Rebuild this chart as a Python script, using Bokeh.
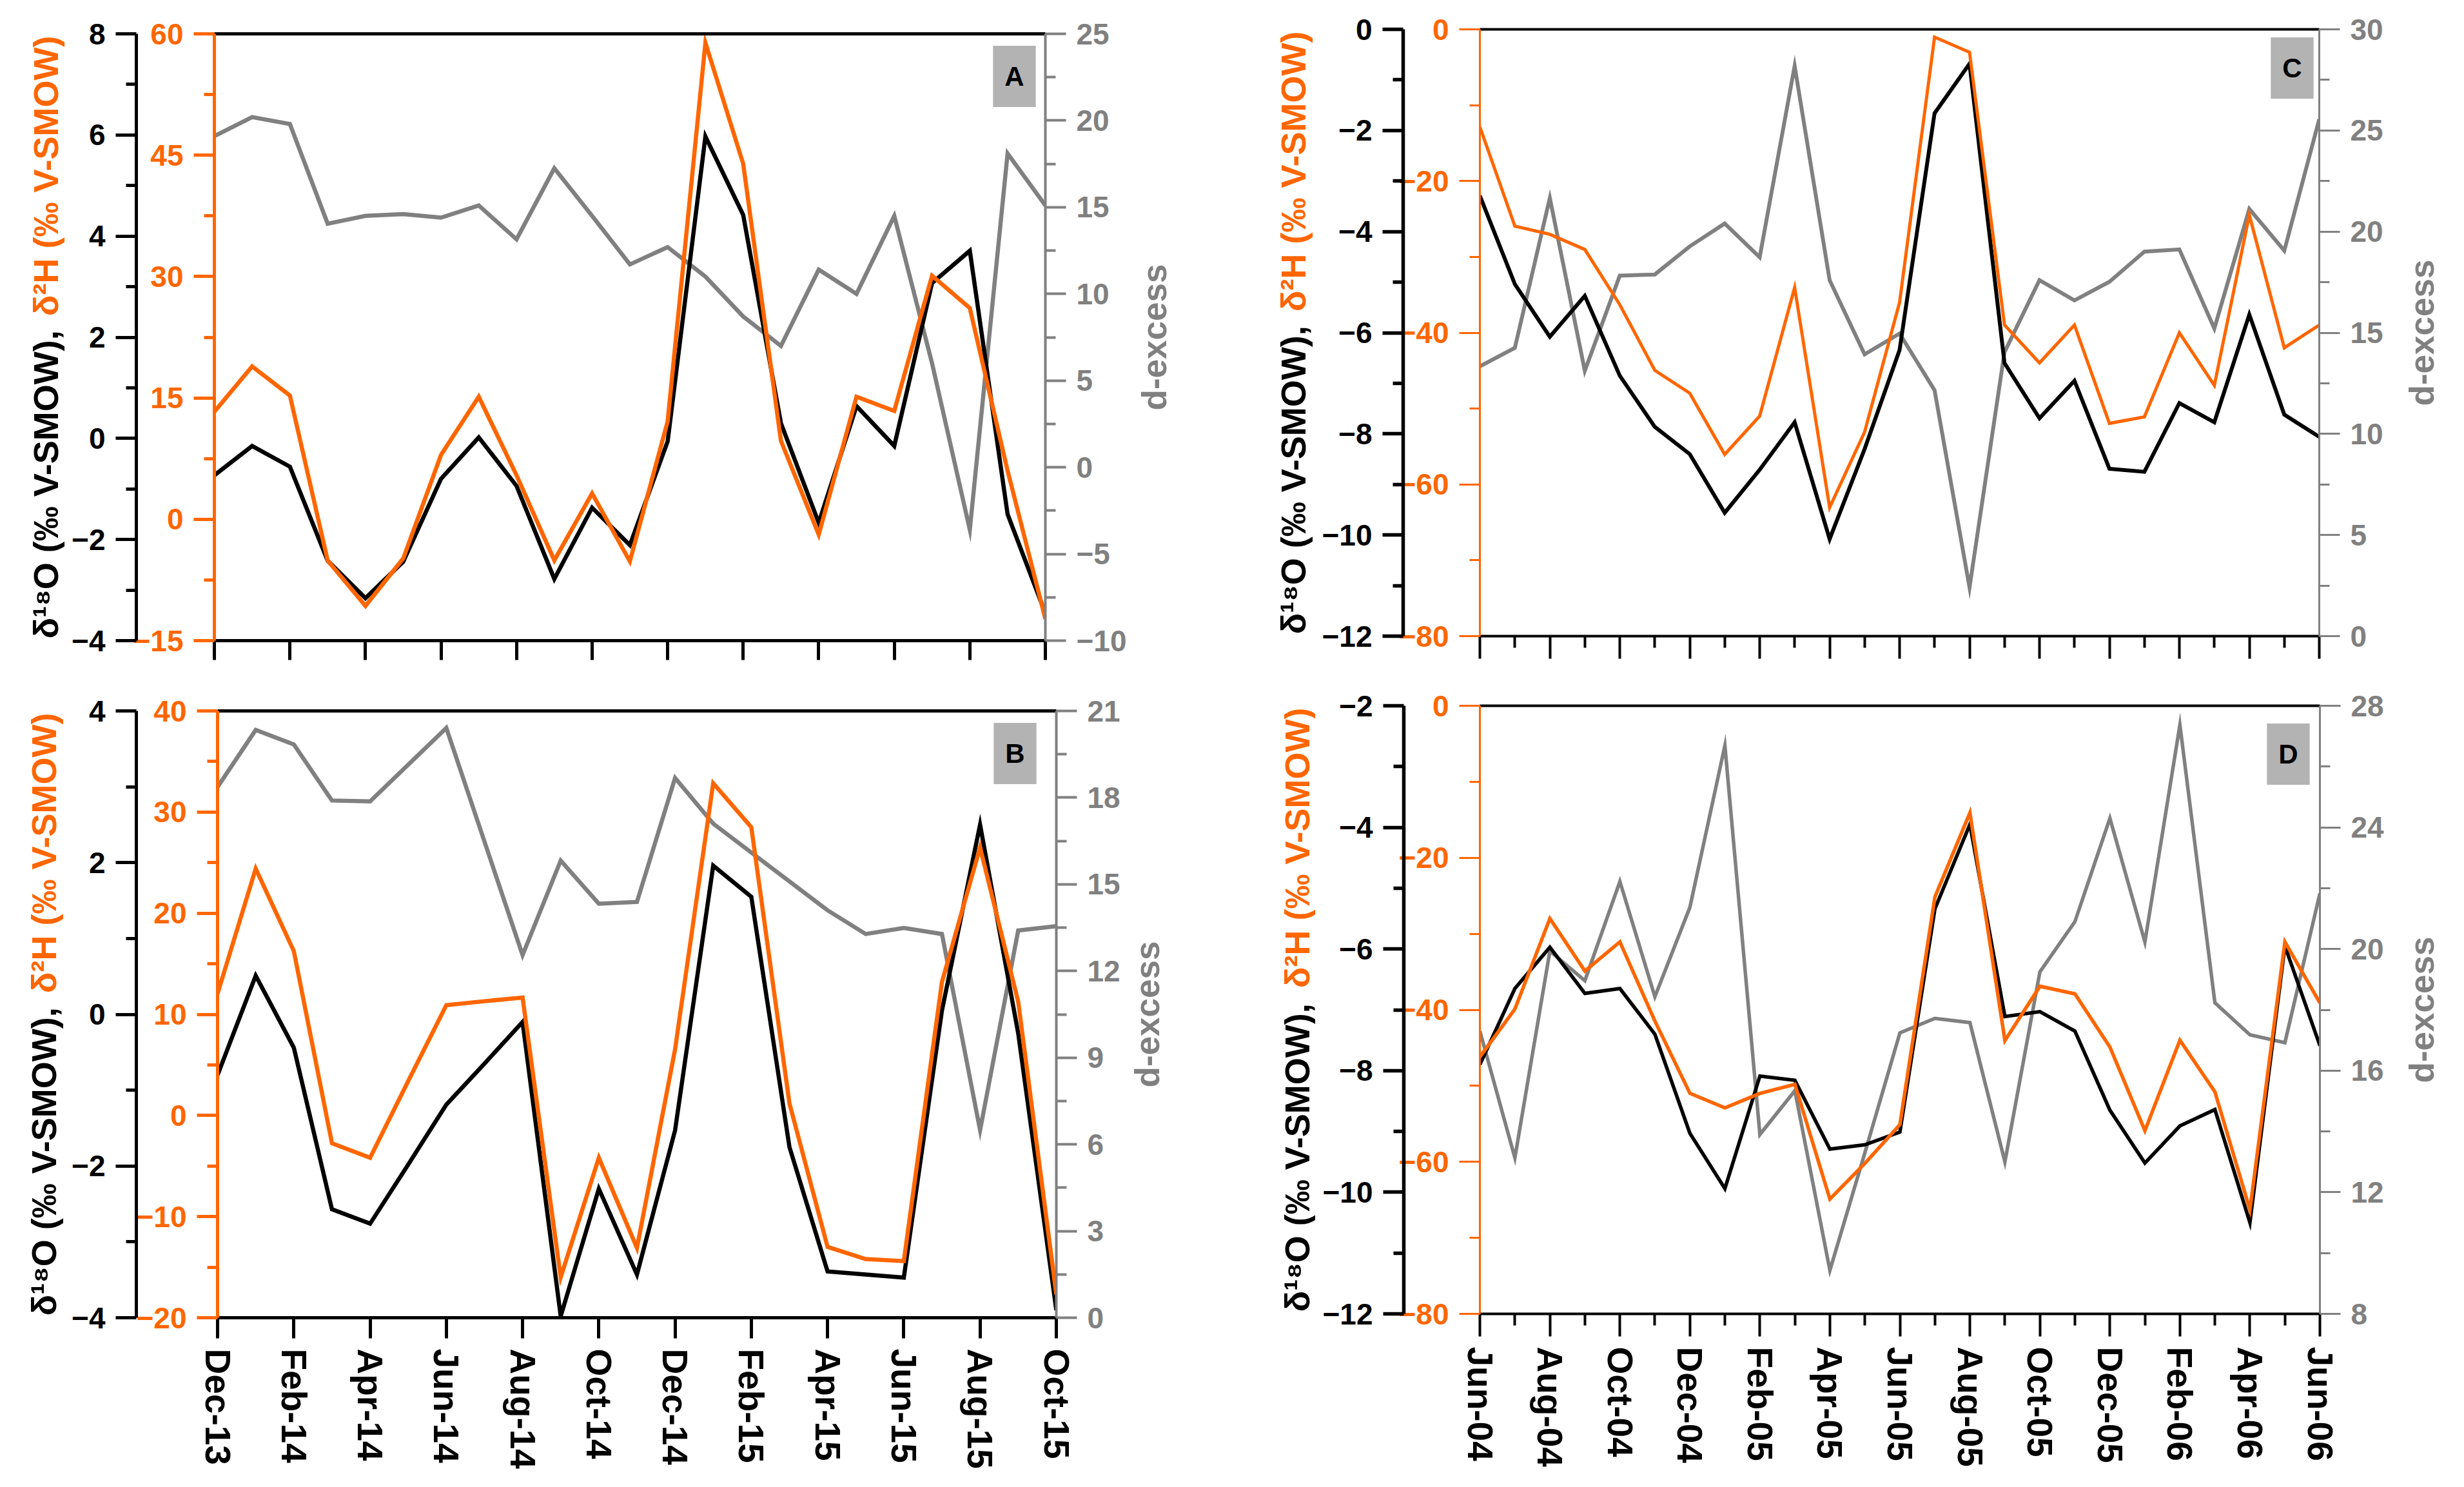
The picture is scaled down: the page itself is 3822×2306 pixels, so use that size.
import math
from bokeh.plotting import figure
from bokeh.models import Range1d, LinearAxis, FixedTicker, Label
from bokeh.layouts import column, row
from bokeh.embed import file_html
from bokeh.resources import INLINE

ORANGE = "#FF6600"
GRAY = "#808080"
BOXGRAY = "#B3B3B3"
FONT = "Liberation Sans"

# ---------------- data ----------------
months_ab = ["Dec-13", "Jan-14", "Feb-14", "Mar-14", "Apr-14", "May-14", "Jun-14", "Jul-14",
             "Aug-14", "Sep-14", "Oct-14", "Nov-14", "Dec-14", "Jan-15", "Feb-15", "Mar-15",
             "Apr-15", "May-15", "Jun-15", "Jul-15", "Aug-15", "Sep-15", "Oct-15"]
months_cd = ["Jun-04", "Jul-04", "Aug-04", "Sep-04", "Oct-04", "Nov-04", "Dec-04", "Jan-05",
             "Feb-05", "Mar-05", "Apr-05", "May-05", "Jun-05", "Jul-05", "Aug-05", "Sep-05",
             "Oct-05", "Nov-05", "Dec-05", "Jan-06", "Feb-06", "Mar-06", "Apr-06", "May-06",
             "Jun-06"]

a_d18o = [-0.73, -0.15, -0.56, -2.42, -3.16, -2.44, -0.80, 0.02, -0.94, -2.78, -1.37, -2.11,
          -0.06, 5.97, 4.42, 0.30, -1.67, 0.64, -0.15, 3.07, 3.71, -1.50, -3.46]
a_d2h = [13.3, 18.9, 15.3, -5.1, -10.7, -4.85, 7.95, 15.15, 5.44, -5.07, 3.2, -5.2,
         12.1, 58.9, 43.95, 9.7, -1.9, 15.15, 13.4, 30.1, 26.1, 6.0, -12.3]
a_dex = [19.1, 20.2, 19.8, 14.05, 14.5, 14.6, 14.4, 15.1, 13.15, 17.25, 14.5, 11.7,
         12.7, 11.0, 8.7, 7.0, 11.4, 10.0, 14.5, 6.0, -3.6, 18.1, 15.1]

b_d18o = [-0.80, 0.51, -0.44, -2.57, -2.76, -1.98, -1.19, -0.65, -0.10, -3.98, -2.30, -3.43,
          -1.53, 1.96, 1.55, -1.75, -3.39, -3.43, -3.47, 0.05, 2.5, -0.25, -3.9]
b_d2h = [12.06, 24.4, 16.25, -2.75, -4.18, 3.4, 10.9, 11.3, 11.65, -16.0, -4.18, -13.1,
         6.55, 32.85, 28.5, 1.2, -13.0, -14.2, -14.4, 13.2, 26.5, 11.25, -17.7]
b_dex = [18.37, 20.34, 19.84, 17.9, 17.87, 19.14, 20.41, 16.48, 12.55, 15.82, 14.33, 14.39,
         18.68, 17.1, 16.1, 15.1, 14.1, 13.28, 13.49, 13.28, 6.49, 13.4, 13.55]

c_d18o = [-3.29, -5.04, -6.08, -5.27, -6.85, -7.86, -8.40, -9.56, -8.71, -7.77, -10.08, -8.30,
          -6.34, -1.66, -0.68, -6.60, -7.69, -6.95, -8.69, -8.75, -7.39, -7.77, -5.64, -7.62, -8.06]
c_d2h = [-12.86, -25.95, -27.03, -29.02, -36.3, -44.95, -47.97, -56.04, -50.98, -34.03, -63.04,
         -53.09, -36.0, -1.02, -3.02, -38.98, -43.98, -38.98, -51.95, -51.1, -40.0, -46.94,
         -24.47, -41.99, -38.98]
c_dex = [13.34, 14.25, 21.66, 13.12, 17.82, 17.88, 19.27, 20.4, 18.73, 28.19, 17.6, 13.93,
         14.96, 12.16, 2.41, 14.04, 17.6, 16.6, 17.52, 19.01, 19.12, 15.21, 21.12, 19.06, 25.56]

d_d18o = [-7.90, -6.65, -5.97, -6.73, -6.65, -7.40, -9.03, -9.94, -8.09, -8.16, -9.29, -9.22,
          -9.01, -5.34, -3.95, -7.11, -7.03, -7.35, -8.65, -9.52, -8.91, -8.64, -10.50, -5.95, -7.59]
d_d2h = [-46.2, -39.9, -28.0, -34.9, -31.07, -41.47, -50.98, -52.9, -51.0, -49.8, -64.9, -60.2,
         -55.1, -25.15, -14.07, -44.05, -36.9, -37.9, -44.9, -55.9, -44.0, -50.8, -66.3, -31.07, -39.1]
d_dex = [17.3, 13.13, 19.93, 18.96, 22.22, 18.43, 21.37, 26.69, 13.9, 15.34, 9.43, 13.3,
         17.24, 17.72, 17.58, 13.0, 19.25, 20.9, 24.3, 20.23, 27.37, 18.23, 17.18, 16.92, 21.83]

# tick values (axis ranges run from first to last)
a_t18 = [-4, -2, 0, 2, 4, 6, 8]
a_t2h = [-15, 0, 15, 30, 45, 60]
a_tdx = [-10, -5, 0, 5, 10, 15, 20, 25]
b_t18 = [-4, -2, 0, 2, 4]
b_t2h = [-20, -10, 0, 10, 20, 30, 40]
b_tdx = [0, 3, 6, 9, 12, 15, 18, 21]
c_t18 = [-12, -10, -8, -6, -4, -2, 0]
c_t2h = [-80, -60, -40, -20, 0]
c_tdx = [0, 5, 10, 15, 20, 25, 30]
d_t18 = [-12, -10, -8, -6, -4, -2]
d_t2h = [-80, -60, -40, -20, 0]
d_tdx = [8, 12, 16, 20, 24, 28]

TITLE_BLACK = "δ¹⁸O (‰ V-SMOW),"
TITLE_ORANGE = "δ²H (‰ V-SMOW)"
TITLE_RIGHT = "d-excess"
TICK_FONT = "46px"
TITLE_FONT = "54px"


def mids(t):
    return [(a + b) / 2 for a, b in zip(t[:-1], t[1:])]


def style_axis(ax, color, lw, tout, mout, size=TICK_FONT, standoff=16):
    ax.axis_line_color = color
    ax.axis_line_width = lw
    ax.major_tick_line_color = color
    ax.major_tick_line_width = lw
    ax.minor_tick_line_color = color
    ax.minor_tick_line_width = lw
    ax.major_tick_in = 0
    ax.minor_tick_in = 0
    ax.major_tick_out = tout
    ax.minor_tick_out = mout
    ax.major_label_text_color = color
    ax.major_label_text_font = FONT
    ax.major_label_text_font_style = "bold"
    ax.major_label_text_font_size = size
    ax.major_label_standoff = standoff


def blank_fig(W, H):
    f = figure(width=W, height=H, output_backend="svg", toolbar_location=None,
               title_location=None, x_axis_location=None, y_axis_location=None,
               x_range=Range1d(0, 1), y_range=Range1d(0, 1),
               min_border_left=0, min_border_right=0, min_border_top=0, min_border_bottom=0)
    f.grid.visible = False
    f.outline_line_color = None
    f.background_fill_color = "white"
    f.border_fill_color = "white"
    return f


def make_panel(months, d18o, d2h, dex, t18, t2h, tdx, letter, cfg):
    n = len(months)
    H = cfg["H"]
    bl, br, bt, bb = cfg["bl"], cfg["br"], cfg["bt"], cfg["bb"]
    fw, fh = cfg["fw"], cfg["fh"]
    W = bl + fw + br
    p = figure(width=W, height=H, output_backend="svg", toolbar_location=None,
               title_location=None,
               x_range=Range1d(0, n - 1), y_range=Range1d(t18[0], t18[-1]),
               x_axis_location=None, y_axis_location=None,
               min_border_left=bl, min_border_right=br, min_border_top=bt, min_border_bottom=bb)
    p.extra_y_ranges = {"h2": Range1d(t2h[0], t2h[-1]), "dx": Range1d(tdx[0], tdx[-1])}
    p.grid.visible = False
    p.outline_line_color = None
    p.background_fill_color = "white"
    p.border_fill_color = "white"

    lw = cfg["lw"]
    x = list(range(n))
    p.line(x, dex, y_range_name="dx", line_color=GRAY, line_width=lw[2], line_join="miter")
    p.line(x, d18o, line_color="black", line_width=lw[0], line_join="miter")
    p.line(x, d2h, y_range_name="h2", line_color=ORANGE, line_width=lw[1], line_join="miter")

    aw = cfg["aw"]  # axis line widths: black, orange, gray, bottom, top
    ax2h = LinearAxis(y_range_name="h2", ticker=FixedTicker(ticks=t2h, minor_ticks=mids(t2h)))
    style_axis(ax2h, ORANGE, aw[1], 32, 16)
    # an invisible spacer label widens the inner axis so the outer axis sits further out
    ax2h.axis_label = " "
    ax2h.axis_label_text_font_size = "1px"
    ax2h.axis_label_standoff = cfg["pad"]
    p.add_layout(ax2h, "left")
    ax18 = LinearAxis(ticker=FixedTicker(ticks=t18, minor_ticks=mids(t18)))
    style_axis(ax18, "black", aw[0], 32, 16)
    p.add_layout(ax18, "left")
    axdx = LinearAxis(y_range_name="dx", ticker=FixedTicker(ticks=tdx, minor_ticks=mids(tdx)))
    style_axis(axdx, GRAY, aw[2], 32, 16)
    p.add_layout(axdx, "right")
    xt = list(range(0, n, 2))
    xminor = list(range(1, n, 2)) if cfg["xminor"] else []
    axx = LinearAxis(ticker=FixedTicker(ticks=xt, minor_ticks=xminor))
    style_axis(axx, "black", aw[3], cfg["xtout"], 18, size="55px", standoff=16)
    if cfg["xlabels"]:
        axx.major_label_overrides = {i: months[i] for i in xt}
        axx.major_label_orientation = "vertical"
    else:
        axx.major_label_overrides = {i: "" for i in xt}
        axx.major_label_text_font_size = "0px"
        axx.major_label_text_color = None
        axx.major_label_standoff = 0
    p.add_layout(axx, "below")
    axt = LinearAxis(ticker=FixedTicker(ticks=[]))
    axt.axis_line_color = "black"
    axt.axis_line_width = aw[4]
    axt.major_tick_line_color = None
    axt.minor_tick_line_color = None
    axt.major_tick_out = 0
    axt.minor_tick_out = 0
    axt.major_label_text_color = None
    axt.major_label_standoff = 0
    p.add_layout(axt, "above")

    # panel letter
    p.add_layout(Label(x=fw + cfg["boxdx"], y=fh - cfg["boxdy"], x_units="screen", y_units="screen",
                       text=letter, text_align="center", text_baseline="middle",
                       text_color="black", text_font=FONT, text_font_style="bold",
                       text_font_size="42px", background_fill_color=BOXGRAY,
                       padding=dict(left=18, right=18, top=24, bottom=24)))

    # left title figure (frames in a row share the panel's vertical extent)
    tl = blank_fig(cfg["LW"], H)
    tl.add_layout(Label(x=cfg["tx"], y=3, x_units="screen", y_units="screen",
                        text=TITLE_BLACK, angle=math.pi / 2, text_align="left",
                        text_baseline="middle", text_color="black", text_font=FONT,
                        text_font_style="bold", text_font_size=TITLE_FONT))
    tl.add_layout(Label(x=cfg["tx"], y=fh - 3, x_units="screen", y_units="screen",
                        text=TITLE_ORANGE, angle=math.pi / 2, text_align="right",
                        text_baseline="middle", text_color=ORANGE, text_font=FONT,
                        text_font_style="bold", text_font_size=TITLE_FONT))
    # right title figure
    tr = blank_fig(cfg["RW"], H)
    tr.add_layout(Label(x=cfg["dx"], y=fh / 2, x_units="screen", y_units="screen",
                        text=TITLE_RIGHT, angle=math.pi / 2, text_align="center",
                        text_baseline="middle", text_color=GRAY, text_font=FONT,
                        text_font_style="bold", text_font_size="53px"))
    return row(tl, p, tr)


cfgA = dict(H=1050, LW=100, bl=232, fw=1301, br=117, RW=170, bt=52, fh=941, bb=57,
            lw=(6.5, 6.5, 6.5), aw=(5, 5, 4, 5, 5), pad=-12, xminor=False, xlabels=False, xtout=30,
            tx=70, dx=40, boxdx=-60, boxdy=66)
cfgB = dict(H=1254, LW=100, bl=237, fw=1301, br=104, RW=178, bt=52, fh=941, bb=261,
            lw=(6.5, 6.5, 6.5), aw=(5, 5, 4, 5, 5), pad=-7, xminor=False, xlabels=True, xtout=32,
            tx=67, dx=37, boxdx=-64, boxdy=66)
cfgC = dict(H=1050, LW=120, bl=255, fw=1302, br=110, RW=111, bt=45, fh=941, bb=64,
            lw=(6, 5, 6), aw=(5.5, 3, 3, 4, 4), pad=-14, xminor=True, xlabels=False, xtout=35,
            tx=85, dx=49, boxdx=-42, boxdy=60)
cfgD = dict(H=1254, LW=120, bl=255, fw=1303, br=110, RW=110, bt=44, fh=943, bb=267,
            lw=(5.5, 5.5, 5.5), aw=(5.5, 3, 3, 4, 4), pad=-15, xminor=True, xlabels=True, xtout=35,
            tx=91, dx=48, boxdx=-49, boxdy=75)

pA = make_panel(months_ab, a_d18o, a_d2h, a_dex, a_t18, a_t2h, a_tdx, "A", cfgA)
pB = make_panel(months_ab, b_d18o, b_d2h, b_dex, b_t18, b_t2h, b_tdx, "B", cfgB)
pC = make_panel(months_cd, c_d18o, c_d2h, c_dex, c_t18, c_t2h, c_tdx, "C", cfgC)
pD = make_panel(months_cd, d_d18o, d_d2h, d_dex, d_t18, d_t2h, d_tdx, "D", cfgD)

layout = row(column(pA, pB), column(pC, pD))
open("out.html", "w").write(file_html(layout, INLINE))
